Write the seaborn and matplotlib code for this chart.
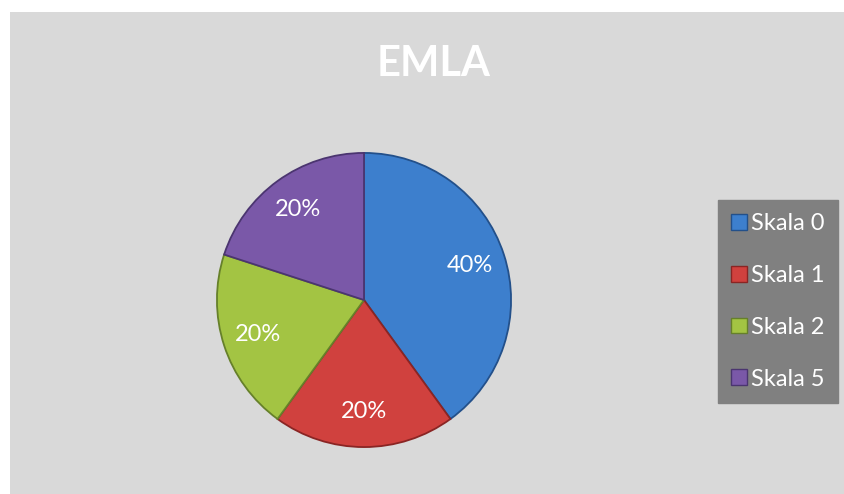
import matplotlib
matplotlib.use("Agg")
import matplotlib.pyplot as plt
import matplotlib.patches as mpatches
import seaborn as sns

categories = ["Skala 0", "Skala 1", "Skala 2", "Skala 5"]
values = [40, 20, 20, 20]
title = "EMLA"

colors = ["#3d7fcd", "#d0413e", "#a3c443", "#7a58a8"]
edges = ["#23508a", "#8a2524", "#66802a", "#4b3570"]

sns.set_theme(style="white")
plt.rcParams["font.family"] = ["Lato", "DejaVu Sans"]

fig = plt.figure(figsize=(8.44, 4.94), dpi=100, facecolor="white")
fig.patches.append(mpatches.Rectangle((10 / 844, 0), 1, 1 - 12 / 494,
                                      transform=fig.transFigure,
                                      facecolor="#d9d9d9", edgecolor="none",
                                      zorder=-10))

ax = fig.add_axes([(364 - 150) / 844, (494 - 450) / 494, 300 / 844, 300 / 494])
ax.set_facecolor("none")
wedges, texts, autotexts = ax.pie(
    values, colors=colors, startangle=90, counterclock=False,
    autopct="%1.0f%%", pctdistance=0.76, radius=1,
    wedgeprops=dict(linewidth=1.3),
    textprops=dict(color="white", fontsize=17))
for w, e in zip(wedges, edges):
    w.set_edgecolor(e)
ax.set_xlim(-1.02, 1.02)
ax.set_ylim(-1.02, 1.02)
ax.set_aspect("equal")
ax.axis("off")

fig.text(434 / 844, 1 - 64 / 494, title, ha="center", va="center",
         color="white", fontsize=30, fontweight="bold")

handles = [mpatches.Patch(facecolor=c, edgecolor=e, linewidth=1)
           for c, e in zip(colors, edges)]
leg = fig.legend(handles, categories, loc="center",
                 bbox_to_anchor=(778 / 844, 1 - 301.5 / 494),
                 frameon=True, facecolor="#808080", edgecolor="#808080",
                 framealpha=1, fancybox=False, fontsize=17,
                 labelcolor="white", handlelength=0.65, handleheight=0.65,
                 handletextpad=0.2, labelspacing=1.3, borderpad=0.55,
                 borderaxespad=0)

fig.savefig("out.png", dpi=100, facecolor="white")
